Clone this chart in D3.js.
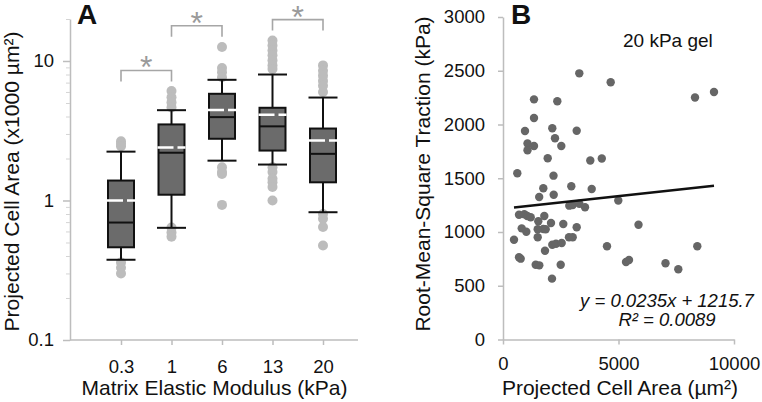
<!DOCTYPE html>
<html>
<head>
<meta charset="utf-8">
<script src="https://cdn.jsdelivr.net/npm/d3@7/dist/d3.min.js"></script>
<style>
  html, body { margin: 0; padding: 0; background: #fff; }
  svg { display: block; }
  text { font-family: "Liberation Sans", Arial, sans-serif; fill: #111; }
</style>
</head>
<body>
<svg id="chart" width="762" height="402"></svg>
<script>
// ---------- Panel A data ----------
const categories = ["0.3", "1", "6", "13", "20"];
const whiskerLow  = [0.376, 0.637, 1.93, 1.81, 0.824];
const q1          = [0.462, 1.10, 2.77, 2.28, 1.35];
const median      = [0.695, 2.20, 3.96, 3.40, 2.16];
const q3          = [1.39, 3.51, 5.82, 4.62, 3.28];
const whiskerHigh = [2.24, 4.44, 7.33, 8.0, 5.47];
const meanVal     = [1.0, 2.40, 4.46, 4.11, 2.69];
const outliers = [
  [2.66, 2.55, 2.45, 0.36, 0.33, 0.30],
  [6.1, 5.5, 5.05, 4.65, 0.64, 0.59, 0.55],
  [12.6, 8.9, 8.3, 7.65, 1.73, 1.6, 1.55, 0.93],
  [14.0, 12.9, 11.9, 11.0, 10.1, 9.3, 8.75, 1.73, 1.6, 1.43, 1.35, 1.25, 1.0],
  [9.3, 8.5, 7.85, 7.2, 6.65, 6.0, 0.80, 0.74, 0.645, 0.476]
];
const sigPairs  = [[0, 1], [1, 2], [3, 4]];
const sigLevels = [8.55, 17.9, 19.8];
const yTicksA = [0.1, 1, 10];
const yMinorA = [0.2,0.3,0.4,0.5,0.6,0.7,0.8,0.9,2,3,4,5,6,7,8,9,20];

// ---------- Panel B data ----------
const cellArea = [3303,4662,1342,2351,1342,952,2134,3190,2251,1061,
  1342,1061,2524,1935,3779,4277,619,2186,1745,2957,
  3840,1567,2195,4991,2870,3017,3303,3550,693,922,
  1052,1199,1788,1528,2078,2610,5866,810,1009,1502,
  1745,1848,3190,476,1502,2857,3017,2134,2294,2541,
  4502,8411,1818,693,766,1416,1571,2498,5325,5455,
  7035,7589,2121,8312,9134];
const rmsTraction = [2476,2393,2234,2216,2060,1939,1965,1942,1872,1823,
  1800,1760,1800,1686,1665,1684,1546,1524,1407,1425,
  1400,1326,1347,1293,1245,1251,1263,1230,1161,1165,
  1149,1137,1149,1100,1084,1074,1068,1034,1003,1025,
  1028,1025,1044,928,951,951,951,882,891,898,
  868,868,826,765,752,696,690,696,721,740,
  709,654,566,2251,2302];
const fitSlope = 0.0235, fitIntercept = 1215.7;
const xTicksB = [0, 5000, 10000];
const yTicksB = [0, 500, 1000, 1500, 2000, 2500, 3000];

const svg = d3.select("#chart");
const axisColor = "#bdbdbd";
const tickFont = "18.5px";
const titleFont = "21px";

// ================= Panel A =================
const xA = d3.scalePoint().domain(categories).range([121, 323]);
const yA = d3.scaleLog().domain([0.1, 20]).range([340, 19]);
const gA = svg.append("g");

// y axis
const yAxisA = gA.append("g").attr("transform", "translate(70,0)")
  .call(d3.axisLeft(yA).tickValues(yTicksA).tickFormat(d => String(d)).tickSize(7).tickSizeOuter(0).tickPadding(9));
yAxisA.select(".domain").attr("stroke", axisColor).attr("stroke-width", 1.5);
yAxisA.selectAll(".tick line").attr("stroke", axisColor).attr("stroke-width", 1.5);
yAxisA.selectAll("text").style("font-size", tickFont).style("fill", "#111");
const yMinor = gA.append("g").attr("transform", "translate(70,0)")
  .call(d3.axisLeft(yA).tickValues(yMinorA).tickFormat("").tickSize(4).tickSizeOuter(0));
yMinor.select(".domain").remove();
yMinor.selectAll(".tick line").attr("stroke", "#d4d4d4").attr("stroke-width", 1);

// x axis
const xAxisA = gA.append("g").attr("transform", "translate(0,340)")
  .call(d3.axisBottom(xA).tickSize(5).tickSizeOuter(0).tickPadding(15));
xAxisA.select(".domain").remove();
gA.append("line").attr("x1", 70).attr("x2", 358).attr("y1", 340).attr("y2", 340)
  .attr("stroke", axisColor).attr("stroke-width", 1.5);
xAxisA.selectAll(".tick line").attr("stroke", axisColor).attr("stroke-width", 1.5);
xAxisA.selectAll("text").style("font-size", tickFont).style("fill", "#111");

// outliers
categories.forEach((c, i) => {
  gA.append("g").selectAll("circle").data(outliers[i]).join("circle")
    .attr("cx", xA(c)).attr("cy", d => yA(d)).attr("r", 5)
    .attr("fill", "#bcbcbc");
});

const boxW = 26, capW = 29;
categories.forEach((c, i) => {
  const cx = xA(c);
  const g = gA.append("g");
  g.append("line").attr("x1", cx).attr("x2", cx)
    .attr("y1", yA(whiskerLow[i])).attr("y2", yA(whiskerHigh[i]))
    .attr("stroke", "#111").attr("stroke-width", 2);
  [whiskerLow[i], whiskerHigh[i]].forEach(v => {
    g.append("line").attr("x1", cx - capW / 2).attr("x2", cx + capW / 2)
      .attr("y1", yA(v)).attr("y2", yA(v))
      .attr("stroke", "#111").attr("stroke-width", 2);
  });
  g.append("rect").attr("x", cx - boxW / 2).attr("width", boxW)
    .attr("y", yA(q3[i])).attr("height", yA(q1[i]) - yA(q3[i]))
    .attr("fill", "#6b6b6b").attr("stroke", "#111").attr("stroke-width", 2);
  g.append("line").attr("x1", cx - boxW / 2).attr("x2", cx + boxW / 2)
    .attr("y1", yA(median[i])).attr("y2", yA(median[i]))
    .attr("stroke", "#111").attr("stroke-width", 2);
  g.append("line").attr("x1", cx - boxW / 2 - 1).attr("x2", cx + boxW / 2 + 1)
    .attr("y1", yA(meanVal[i])).attr("y2", yA(meanVal[i]))
    .attr("stroke", "#fff").attr("stroke-width", 2.5).attr("stroke-dasharray", "16,4");
});

// significance brackets
sigPairs.forEach((p, k) => {
  const x1 = xA(categories[p[0]]), x2 = xA(categories[p[1]]);
  const yy = yA(sigLevels[k]);
  gA.append("path")
    .attr("d", `M${x1},${yy + 11}V${yy}H${x2}V${yy + 11}`)
    .attr("fill", "none").attr("stroke", "#a6a6a6").attr("stroke-width", 1.6);
  gA.append("text").attr("x", (x1 + x2) / 2).attr("y", yy + 8)
    .attr("text-anchor", "middle").style("font-size", "32px").style("fill", "#9a9a9a").text("*");
});

// titles
gA.append("text").attr("x", 214.5).attr("y", 395).attr("text-anchor", "middle")
  .style("font-size", titleFont).text("Matrix Elastic Modulus (kPa)");
gA.append("text").attr("transform", "translate(18.5,181.5) rotate(-90)").attr("text-anchor", "middle")
  .attr("textLength", 300).attr("lengthAdjust", "spacingAndGlyphs")
  .style("font-size", "20.3px").text("Projected Cell Area (x1000 µm²)");
gA.append("text").attr("x", 77).attr("y", 24).style("font-size", "28px").style("font-weight", "bold").text("A");

// ================= Panel B =================
const xB = d3.scaleLinear().domain([0, 10000]).range([503, 734]);
const yB = d3.scaleLinear().domain([0, 3000]).range([339.5, 17]);
const gB = svg.append("g");

const yAxisB = gB.append("g").attr("transform", "translate(503,0)")
  .call(d3.axisLeft(yB).tickValues(yTicksB).tickFormat(d3.format("d")).tickSize(5).tickSizeOuter(0).tickPadding(13));
yAxisB.select(".domain").attr("stroke", axisColor).attr("stroke-width", 1.5);
yAxisB.selectAll(".tick line").attr("stroke", axisColor).attr("stroke-width", 1.5);
yAxisB.selectAll("text").style("font-size", tickFont).style("fill", "#111");

const xAxisB = gB.append("g").attr("transform", "translate(0,339.5)")
  .call(d3.axisBottom(xB).tickValues(xTicksB).tickFormat(d3.format("d")).tickSize(5).tickSizeOuter(0).tickPadding(12));
xAxisB.select(".domain").attr("stroke", axisColor).attr("stroke-width", 1.5);
xAxisB.selectAll(".tick line").attr("stroke", axisColor).attr("stroke-width", 1.5);
xAxisB.selectAll("text").style("font-size", tickFont).style("fill", "#111");

gB.append("g").selectAll("circle").data(d3.range(cellArea.length)).join("circle")
  .attr("cx", i => xB(cellArea[i])).attr("cy", i => yB(rmsTraction[i])).attr("r", 4.2)
  .attr("fill", "#666");

const xExt = d3.extent(cellArea);
gB.append("line")
  .attr("x1", xB(xExt[0])).attr("y1", yB(fitSlope * xExt[0] + fitIntercept))
  .attr("x2", xB(xExt[1])).attr("y2", yB(fitSlope * xExt[1] + fitIntercept))
  .attr("stroke", "#111").attr("stroke-width", 2.5);

gB.append("text").attr("x", 623).attr("y", 47).style("font-size", "19px").text("20 kPa gel");
gB.append("text").attr("x", 667).attr("y", 306.5).attr("text-anchor", "middle")
  .style("font-size", "18.5px").style("font-style", "italic").text("y = 0.0235x + 1215.7");
gB.append("text").attr("x", 667).attr("y", 325.5).attr("text-anchor", "middle")
  .style("font-size", "18.5px").style("font-style", "italic").text("R² = 0.0089");

gB.append("text").attr("x", 620).attr("y", 395).attr("text-anchor", "middle")
  .style("font-size", titleFont).text("Projected Cell Area (µm²)");
gB.append("text").attr("transform", "translate(430,174) rotate(-90)").attr("text-anchor", "middle")
  .style("font-size", titleFont).text("Root-Mean-Square Traction (kPa)");
gB.append("text").attr("x", 511).attr("y", 24).style("font-size", "28px").style("font-weight", "bold").text("B");
</script>
</body>
</html>
